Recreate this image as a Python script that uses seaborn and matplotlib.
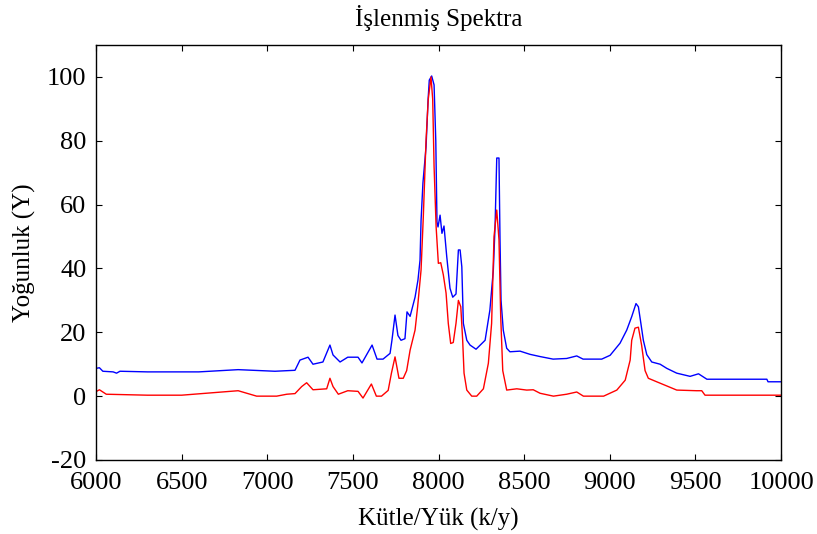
import matplotlib
matplotlib.use("Agg")
import matplotlib.pyplot as plt
import seaborn as sns

# ===============================
# Datos
# ===============================
mz_blue = [6000, 6020, 6040, 6100, 6120, 6140, 6300, 6600, 6830, 7045, 7162, 7191,
           7238, 7267, 7325, 7366, 7384, 7425, 7470, 7530, 7553, 7612, 7641, 7676,
           7717, 7728, 7746, 7763, 7781, 7804, 7816, 7834, 7863, 7880, 7892, 7898,
           7909, 7927, 7939, 7946, 7960, 7974, 7984, 7991, 7997, 8009, 8020, 8032,
           8048, 8067, 8083, 8102, 8116, 8126, 8136, 8145, 8165, 8184, 8219, 8272,
           8300, 8320, 8330, 8340, 8353, 8359, 8365, 8378, 8398, 8417, 8476, 8534,
           8593, 8669, 8748, 8807, 8844, 8953, 9002, 9060, 9099, 9128, 9153, 9167,
           9181, 9196, 9216, 9245, 9294, 9333, 9391, 9469, 9518, 9567, 9917, 9924,
           10000]
int_blue = [8.7, 8.9, 7.8, 7.6, 7.2, 7.8, 7.6, 7.6, 8.3, 7.8, 8.1, 11.3,
            12.2, 10.0, 10.7, 16.0, 12.9, 10.7, 12.2, 12.2, 10.4, 16.0, 11.6, 11.6,
            13.4, 17.5, 25.4, 19.0, 17.5, 18.0, 26.4, 25.0, 31.0, 36.4, 42.6, 55.0,
            66.8, 78.0, 92.8, 99.0, 100.3, 97.5, 80.0, 54.6, 53.0, 56.7, 51.0, 53.3,
            43.7, 33.8, 31.0, 32.0, 45.8, 45.8, 40.5, 22.8, 17.5, 16.0, 14.7, 17.5,
            27.0, 39.5, 53.0, 74.6, 74.6, 49.0, 30.0, 20.7, 15.0, 13.9, 14.1, 13.1,
            12.4, 11.6, 11.8, 12.6, 11.6, 11.6, 12.8, 16.6, 20.7, 24.9, 29.0, 28.0,
            23.0, 17.5, 13.0, 10.7, 10.0, 8.7, 7.2, 6.2, 7.0, 5.3, 5.3, 4.5,
            4.5]

mz_red = [6000, 6020, 6060, 6300, 6500, 6830, 6938, 7055, 7114, 7162, 7201, 7230,
          7267, 7347, 7366, 7384, 7415, 7470, 7530, 7559, 7608, 7637, 7667, 7706,
          7725, 7746, 7769, 7794, 7814, 7834, 7863, 7878, 7898, 7911, 7927, 7940,
          7956, 7966, 7974, 7986, 7999, 8013, 8028, 8044, 8057, 8071, 8086, 8102,
          8116, 8130, 8141, 8149, 8165, 8194, 8223, 8262, 8291, 8310, 8324, 8340,
          8353, 8363, 8375, 8398, 8457, 8515, 8553, 8593, 8671, 8748, 8807, 8846,
          8964, 9041, 9090, 9119, 9128, 9147, 9167, 9186, 9206, 9225, 9274, 9391,
          9507, 9537, 9556, 10000]
int_red = [1.4, 2.0, 0.6, 0.3, 0.3, 1.7, 0.0, 0.0, 0.6, 0.8, 3.0, 4.2,
           2.0, 2.3, 5.6, 3.0, 0.6, 1.7, 1.5, -0.6, 3.8, 0.0, 0.0, 1.8,
           7.2, 12.3, 5.6, 5.6, 8.0, 14.4, 20.7, 28.0, 39.5, 56.0, 80.0, 93.0,
           100.0, 93.0, 72.0, 53.0, 41.6, 41.8, 38.0, 32.3, 22.8, 16.5, 16.8, 22.8,
           30.0, 28.0, 17.5, 7.2, 1.9, 0.0, 0.0, 2.3, 10.3, 22.8, 50.0, 58.3,
           49.0, 25.0, 8.0, 1.9, 2.3, 1.9, 2.0, 0.9, 0.0, 0.6, 1.3, 0.0,
           0.0, 1.9, 5.0, 11.3, 17.5, 21.3, 21.6, 15.9, 8.0, 5.6, 4.5, 1.9,
           1.7, 1.7, 0.3, 0.3]

x_ticks = [6000, 6500, 7000, 7500, 8000, 8500, 9000, 9500, 10000]
y_ticks = [-20, 0, 20, 40, 60, 80, 100]

# ===============================
# Estilo
# ===============================
sns.set_style("ticks")
plt.rcParams["font.family"] = ["Liberation Serif", "DejaVu Serif"]
plt.rcParams["axes.unicode_minus"] = False
plt.rcParams["xtick.direction"] = "in"
plt.rcParams["ytick.direction"] = "in"
plt.rcParams["text.color"] = "black"
plt.rcParams["axes.labelcolor"] = "black"

fig = plt.figure(figsize=(8.17, 5.34), dpi=100)
ax = fig.add_axes([0.1175, 0.1386, 0.8385, 0.7771])

sns.lineplot(x=mz_blue, y=int_blue, color="#0000ff", lw=1.0, sort=False,
             estimator=None, ax=ax)
sns.lineplot(x=mz_red, y=int_red, color="#ff0000", lw=1.0, sort=False,
             estimator=None, ax=ax)

ax.set_xlim(6000, 10000)
ax.set_ylim(-20, 110)
ax.set_xticks(x_ticks)
ax.set_yticks(y_ticks)
ax.tick_params(labelsize=19, top=True, right=True, length=4, width=0.8,
               colors="black")
ax.tick_params(axis="x", pad=9)
ax.tick_params(axis="y", pad=7)
for sp in ax.spines.values():
    sp.set_visible(True)
    sp.set_color("black")
    sp.set_linewidth(1.0)

ax.set_title("İşlenmiş Spektra", fontsize=18, pad=14, color="black")
ax.set_xlabel("Kütle/Yük (k/y)", fontsize=18, labelpad=10)
ax.set_ylabel("Yoğunluk (Y)", fontsize=18, labelpad=8)

fig.savefig("out.png", dpi=100)
plt.close(fig)
